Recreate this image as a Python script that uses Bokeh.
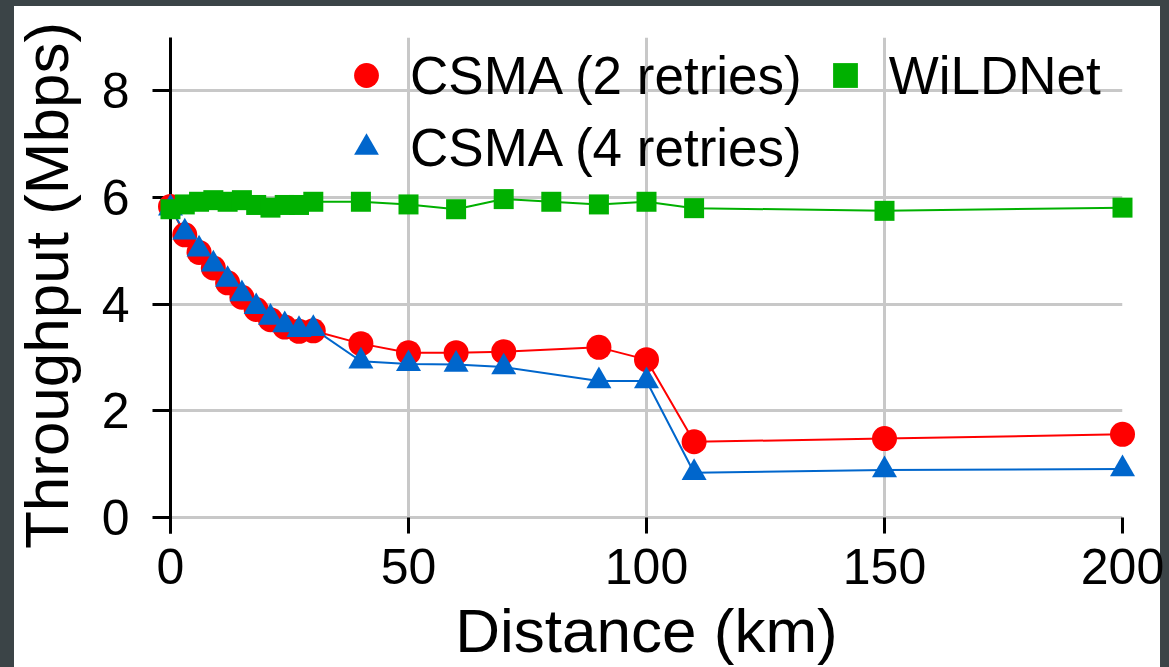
from bokeh.plotting import figure
from bokeh.models import Range1d, FixedTicker, Legend, LegendItem
from bokeh.embed import file_html
from bokeh.resources import INLINE

# ---- data ----
distance_csma = [0, 3, 6, 9, 12, 15, 18, 21, 24, 27, 30, 40, 50, 60, 70, 90, 100, 110, 150, 200]
csma_2_retries = [5.83, 5.30, 4.97, 4.68, 4.40, 4.13, 3.90, 3.71, 3.57, 3.49, 3.50,
                  3.26, 3.09, 3.09, 3.11, 3.19, 2.96, 1.42, 1.48, 1.56]
csma_4_retries = [5.80, 5.35, 5.03, 4.75, 4.46, 4.19, 3.95, 3.75, 3.61, 3.52, 3.54,
                  2.93, 2.88, 2.87, 2.82, 2.56, 2.56, 0.84, 0.89, 0.91]
distance_wildnet = [0, 3, 6, 9, 12, 15, 18, 21, 24, 27, 30, 40, 50, 60, 70, 80, 90, 100, 110, 150, 200]
wildnet = [5.78, 5.87, 5.92, 5.95, 5.92, 5.95, 5.86, 5.81, 5.86, 5.86, 5.92,
           5.92, 5.87, 5.78, 5.97, 5.92, 5.87, 5.92, 5.80, 5.75, 5.81]
x_ticks = [0, 50, 100, 150, 200]
y_ticks = [0, 2, 4, 6, 8]
labels = ["CSMA (2 retries)", "CSMA (4 retries)", "WiLDNet"]

RED, BLUE, GREEN = "#ff0000", "#0066cc", "#00b000"
FONT = "Liberation Sans"
EDGE = "#3b4447"

p = figure(width=1169, height=667, output_backend="svg", toolbar_location=None,
           x_range=Range1d(0, 200), y_range=Range1d(-0.3, 9),
           min_border_left=170, min_border_right=47, min_border_top=37, min_border_bottom=134,
           background_fill_color="white", border_fill_color="white", border_fill_alpha=0,
           outline_line_color=None,
           styles={"background-color": "white",
                   "box-shadow": f"inset 14px 6px 0 0 {EDGE}, inset -9px 0 0 0 {EDGE}"})

# lines
p.line(distance_csma, csma_2_retries, line_color=RED, line_width=2)
p.line(distance_csma, csma_4_retries, line_color=BLUE, line_width=2)
p.line(distance_wildnet, wildnet, line_color=GREEN, line_width=2)

# markers (overlay level so markers at the frame edges are not cut)
r_red = p.scatter(distance_csma, csma_2_retries, marker="circle", size=25,
                  fill_color=RED, line_color=None, level="overlay")
r_blue = p.scatter(distance_csma, csma_4_retries, marker="triangle", size=25,
                   fill_color=BLUE, line_color=None, level="overlay")
r_green = p.scatter(distance_wildnet, wildnet, marker="square", size=20,
                    fill_color=GREEN, line_color=None, level="overlay")

# axes
xa = p.xaxis[0]
xa.ticker = FixedTicker(ticks=x_ticks)
xa.axis_line_color = None
xa.major_tick_in = 16
xa.major_tick_out = 0
xa.major_tick_line_color = "black"
xa.major_tick_line_width = 3
xa.minor_tick_line_color = None
xa.major_label_text_font = FONT
xa.major_label_text_font_size = "50px"
xa.major_label_text_color = "black"
xa.major_label_standoff = 15
xa.axis_label = "Distance (km)"
xa.axis_label_text_font = FONT
xa.axis_label_text_font_size = "62px"
xa.axis_label_text_font_style = "normal"
xa.axis_label_text_color = "black"
xa.axis_label_standoff = 9

ya = p.yaxis[0]
ya.ticker = FixedTicker(ticks=y_ticks)
ya.axis_line_color = "black"
ya.axis_line_width = 3
ya.major_tick_in = 0
ya.major_tick_out = 18
ya.major_tick_line_color = "black"
ya.major_tick_line_width = 3
ya.minor_tick_line_color = None
ya.major_label_text_font = FONT
ya.major_label_text_font_size = "50px"
ya.major_label_text_color = "black"
ya.major_label_standoff = 23
ya.axis_label = "Throughput (Mbps)"
ya.axis_label_text_font = FONT
ya.axis_label_text_font_size = "62px"
ya.axis_label_text_font_style = "normal"
ya.axis_label_text_color = "black"
ya.axis_label_standoff = 18

# grid
p.xgrid.ticker = FixedTicker(ticks=x_ticks)
p.ygrid.ticker = FixedTicker(ticks=y_ticks)
for g in (p.xgrid[0], p.ygrid[0]):
    g.grid_line_color = "#c8c8c8"
    g.grid_line_width = 3

# legend
legend = Legend(
    items=[LegendItem(label=labels[0], renderers=[r_red]),
           LegendItem(label=labels[1], renderers=[r_blue]),
           LegendItem(label=labels[2], renderers=[r_green])],
    location=(163, 355), orientation="vertical", ncols=2,
    glyph_width=66, glyph_height=62, label_standoff=11, spacing=10,
    padding=0, margin=0, border_line_color=None, background_fill_alpha=0,
    label_text_font=FONT, label_text_font_size="53px", label_text_color="black",
)
p.add_layout(legend)

open("out.html", "w").write(file_html(p, INLINE))
